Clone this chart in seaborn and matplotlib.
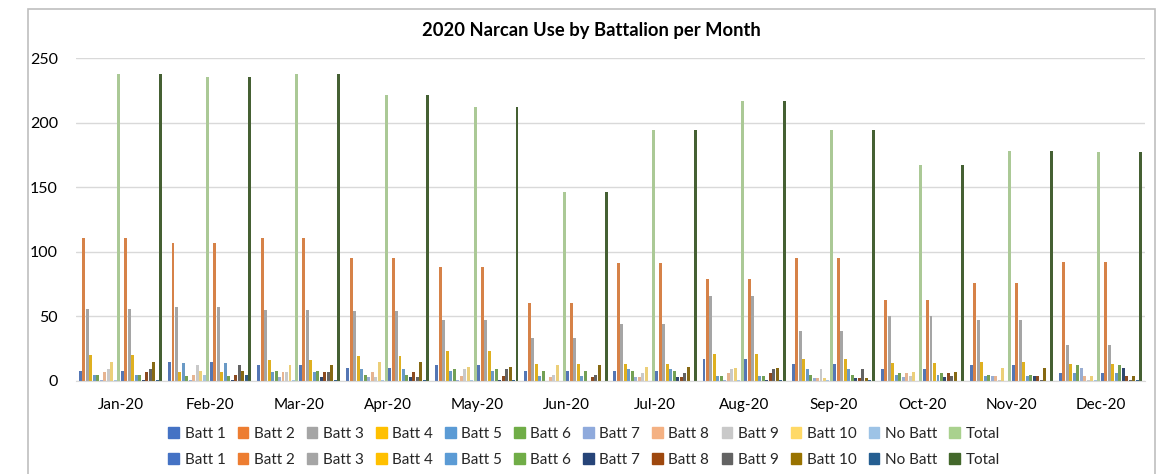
import pandas as pd
import matplotlib.pyplot as plt
import seaborn as sns
from matplotlib.patches import Rectangle, Patch

months = ["Jan-20", "Feb-20", "Mar-20", "Apr-20", "May-20", "Jun-20",
          "Jul-20", "Aug-20", "Sep-20", "Oct-20", "Nov-20", "Dec-20"]
series = ["Batt 1", "Batt 2", "Batt 3", "Batt 4", "Batt 5", "Batt 6",
          "Batt 7", "Batt 8", "Batt 9", "Batt 10", "No Batt", "Total"]

batt1 = [8, 15, 12, 10, 12, 8, 8, 17, 13, 9, 12, 6]
batt2 = [111, 107, 111, 95, 88, 60, 91, 79, 95, 63, 76, 92]
batt3 = [56, 57, 55, 54, 47, 33, 44, 66, 39, 50, 47, 28]
batt4 = [20, 7, 16, 19, 23, 13, 13, 21, 17, 14, 15, 13]
batt5 = [5, 14, 7, 9, 8, 4, 9, 4, 9, 5, 4, 6]
batt6 = [5, 4, 8, 5, 9, 8, 8, 4, 5, 6, 5, 12]
batt7 = [1, 1, 3, 3, 1, 0, 3, 1, 2, 3, 4, 10]
batt8 = [7, 5, 7, 7, 4, 3, 3, 6, 2, 6, 4, 4]
batt9 = [9, 12, 7, 3, 9, 5, 6, 9, 9, 4, 1, 1]
batt10 = [15, 8, 12, 15, 11, 12, 11, 10, 2, 7, 10, 4]
no_batt = [1, 5, 1, 1, 1, 0, 0, 1, 1, 0, 0, 1]
total = [238, 235, 238, 221, 212, 146, 194, 217, 194, 167, 178, 177]

values = [batt1, batt2, batt3, batt4, batt5, batt6,
          batt7, batt8, batt9, batt10, no_batt, total]

# the sheet plots the same table twice, second copy with darker colours
colors_a = ["#4472C4", "#ED7D31", "#A5A5A5", "#FFC000", "#5B9BD5", "#70AD47",
            "#8FAADC", "#F4B183", "#C9C9C9", "#FFD966", "#9DC3E6", "#A9D18E"]
colors_b = ["#4472C4", "#ED7D31", "#A5A5A5", "#FFC000", "#5B9BD5", "#70AD47",
            "#264478", "#9E480E", "#636363", "#997300", "#255E91", "#43682B"]

rows = []
for copy in ["A", "B"]:
    for name, vals in zip(series, values):
        for m, v in zip(months, vals):
            rows.append({"Month": m, "Series": f"{copy} {name}", "Count": v})
df = pd.DataFrame(rows)
hue_order = [f"A {s}" for s in series] + [f"B {s}" for s in series]

sns.set_style("white")
plt.rcParams["font.family"] = ["Lato", "DejaVu Sans"]

fig = plt.figure(figsize=(11.56, 4.74), dpi=100)
W, H = 1156, 474
ax = fig.add_axes([76 / W, 1 - 381 / H, (1145 - 76) / W, (381 - 58) / H])

sns.barplot(data=df, x="Month", y="Count", hue="Series", hue_order=hue_order,
            order=months, palette=colors_a + colors_b, errorbar=None,
            width=0.94, gap=0.15, linewidth=0, ax=ax, legend=False)

ax.set_ylim(0, 250)
ax.set_xlim(-0.5, len(months) - 0.5)
ax.set_yticks(range(0, 251, 50))
ax.yaxis.grid(True, color="#D9D9D9", linewidth=1)
ax.set_axisbelow(True)
ax.set_xlabel("")
ax.set_ylabel("")
for side in ["top", "right", "left"]:
    ax.spines[side].set_visible(False)
ax.spines["bottom"].set_color("#D9D9D9")
ax.tick_params(axis="y", length=0, labelsize=11.5, pad=13, colors="black")
ax.tick_params(axis="x", which="major", length=0, labelsize=11, pad=12,
               colors="black")
ax.set_xticks([i - 0.5 for i in range(len(months) + 1)], minor=True)
ax.tick_params(axis="x", which="minor", length=5, color="#D9D9D9")

ax.set_title("2020 Narcan Use by Battalion per Month", fontsize=13.2,
             fontweight="bold", pad=16, color="black")
ax.title.set_position((0.482, 1.0))

handles, labels = [], []
for i, s in enumerate(series):
    handles += [Patch(color=colors_a[i]), Patch(color=colors_b[i])]
    labels += [s, s]
fig.legend(handles, labels, ncol=12, loc="upper center",
           bbox_to_anchor=(584 / W, 1 - 421 / H), frameon=False,
           fontsize=11, handlelength=0.7, handleheight=0.7,
           handletextpad=0.35, columnspacing=0.8, labelspacing=0.75,
           borderaxespad=0)

fig.patches.append(Rectangle((28 / W, -0.1), (1155 - 28) / W, 1.1 - 9 / H,
                             transform=fig.transFigure, fill=False,
                             edgecolor="#BFBFBF", linewidth=1.2))

fig.savefig("out.png", dpi=100)
